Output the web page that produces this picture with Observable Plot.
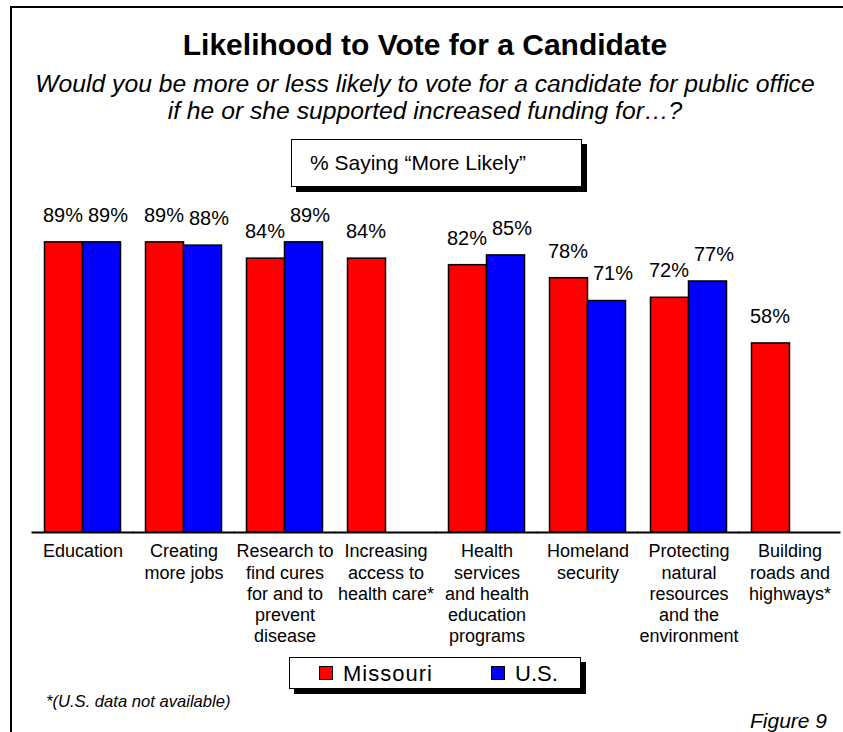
<!DOCTYPE html>
<html>
<head>
<meta charset="utf-8">
<script src="https://cdn.jsdelivr.net/npm/d3@7"></script>
<script src="https://cdn.jsdelivr.net/npm/@observablehq/plot@0.6"></script>
<style>
  html, body { margin: 0; padding: 0; background: #fff; }
  #wrap { position: relative; width: 843px; height: 732px; overflow: hidden; background: #fff;
          font-family: "Liberation Sans", Arial, sans-serif; color: #000; }
  #frame { position: absolute; left: 10px; top: 6px; width: 900px; height: 800px;
           border-top: 2px solid #000; border-left: 2px solid #000; }
  .center { position: absolute; left: 0; width: 850px; text-align: center; white-space: nowrap; }
  #title { top: 28px; font-size: 30px; font-weight: bold; }
  #sub1 { top: 70px; font-size: 24.7px; font-style: italic; }
  #sub2 { top: 97px; font-size: 24.7px; font-style: italic; }
  #note { position: absolute; left: 291px; top: 139px; height: 46px;
          border: 1.5px solid #000; box-shadow: 5px 5px 0 #000; background: #fff;
          font-size: 21px; line-height: 46px; padding-left: 18px; width: 271px; }
  #chart { position: absolute; left: 0; top: 0; }
  #legend { position: absolute; left: 289px; top: 657px; width: 290px; height: 30px;
            border: 1.5px solid #000; box-shadow: 5px 5px 0 #000; background: #fff; }
  .sw { position: absolute; top: 8px; width: 12px; height: 12px; border: 1.5px solid #000; }
  .lt { position: absolute; top: 0; font-size: 22px; line-height: 31px; }
  #caption { position: absolute; left: 46px; top: 692px; font-size: 16.6px; font-style: italic; }
  #fig { position: absolute; right: 16px; top: 709px; font-size: 21px; font-style: italic; }
</style>
</head>
<body>
<div id="wrap">
  <div id="frame"></div>
  <div id="title" class="center">Likelihood to Vote for a Candidate</div>
  <div id="sub1" class="center">Would you be more or less likely to vote for a candidate for public office</div>
  <div id="sub2" class="center">if he or she supported increased funding for…?</div>
  <div id="chart"></div>
  <div id="note">% Saying “More Likely”</div>
  <div id="legend"></div>
  <div id="caption">*(U.S. data not available)</div>
  <div id="fig">Figure 9</div>
</div>
<script>
// ---- data ----
const categories = [
  "Education",
  "Creating more jobs",
  "Research to find cures for and to prevent disease",
  "Increasing access to health care*",
  "Health services and health education programs",
  "Homeland security",
  "Protecting natural resources and the environment",
  "Building roads and highways*"
];
const categoryLabels = [
  "Education",
  "Creating\nmore jobs",
  "Research to\nfind cures\nfor and to\nprevent\ndisease",
  "Increasing\naccess to\nhealth care*",
  "Health\nservices\nand health\neducation\nprograms",
  "Homeland\nsecurity",
  "Protecting\nnatural\nresources\nand the\nenvironment",
  "Building\nroads and\nhighways*"
];
const series = ["Missouri", "U.S."];
const missouri = [89, 89, 84, 84, 82, 78, 72, 58];
const us = [89, 88, 89, null, 85, 71, 77, null];
const seriesColors = ["#ff0000", "#0000ff"];

// ---- tables ----
const rows = [];
categories.forEach((c, i) => {
  if (missouri[i] != null) rows.push({category: c, series: series[0], value: missouri[i]});
  if (us[i] != null) rows.push({category: c, series: series[1], value: us[i]});
});
const labelRows = categories.map((c, i) => ({category: c, label: categoryLabels[i]}));
const labelOpts = {fx: "category", x: "series", y: "value", text: d => d.value + "%", dy: -27,
  lineAnchor: "middle", fontSize: 20, fill: "#000"};

const chart = Plot.plot({
  width: 843,
  height: 650,
  marginTop: 206,
  marginBottom: 118,
  marginLeft: 31.5,
  marginRight: 3.5,
  style: {fontFamily: "'Liberation Sans', Arial, sans-serif", background: "transparent", overflow: "visible", color: "#000"},
  fx: {domain: categories, paddingInner: 0.24, paddingOuter: 0.12, axis: null, label: null},
  x: {domain: series, axis: null, padding: 0},
  y: {domain: [0, 100], axis: null},
  color: {domain: series, range: seriesColors},
  marks: [
    Plot.barY(rows, {fx: "category", x: "series", y: "value", fill: "series", stroke: "#000", strokeWidth: 1.5}),
    Plot.text(rows.filter(d => d.series === series[0]), {...labelOpts, dx: -1}),
    Plot.text(rows.filter(d => d.series === series[1]), {...labelOpts, dx: 6}),
    Plot.text(labelRows, {fx: "category", text: "label", frameAnchor: "bottom", lineAnchor: "top",
      dy: 10, fontSize: 18, lineHeight: 1.17, fill: "#000"}),
    Plot.ruleY(labelRows, {fx: "category", y: () => 0, stroke: "#000", strokeWidth: 2,
      insetLeft: -12.5, insetRight: -12.5})
  ]
});
document.getElementById("chart").appendChild(chart);

// ---- legend ----
const legend = document.getElementById("legend");
const legendPos = [{sw: 29, tx: 53}, {sw: 201, tx: 225}];
series.forEach((s, i) => {
  const sw = document.createElement("div");
  sw.className = "sw";
  sw.style.left = legendPos[i].sw + "px";
  sw.style.background = seriesColors[i];
  legend.appendChild(sw);
  const t = document.createElement("div");
  t.className = "lt";
  t.style.left = legendPos[i].tx + "px";
  if (i === 0) t.style.letterSpacing = "1px";
  t.textContent = s;
  legend.appendChild(t);
});
</script>
</body>
</html>
